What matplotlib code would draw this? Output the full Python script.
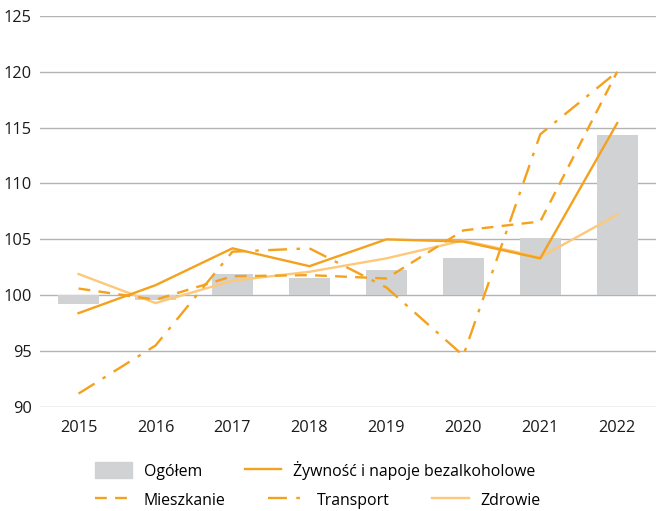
import matplotlib
matplotlib.use("Agg")
import matplotlib.pyplot as plt
from matplotlib.patches import Patch
from matplotlib.lines import Line2D

plt.rcParams['font.family'] = ['Open Sans', 'DejaVu Sans']

# data
years = ['2015', '2016', '2017', '2018', '2019', '2020', '2021', '2022']
ogolem = [99.2, 99.6, 101.9, 101.5, 102.3, 103.3, 105.1, 114.3]
zywnosc = [98.4, 100.9, 104.2, 102.6, 105.0, 104.8, 103.3, 115.4]
mieszkanie = [100.6, 99.6, 101.7, 101.8, 101.5, 105.8, 106.6, 120.0]
transport = [91.2, 95.5, 103.9, 104.2, 100.7, 94.6, 114.4, 120.0]
zdrowie = [101.9, 99.3, 101.3, 102.1, 103.3, 104.9, 103.4, 107.2]
yticks = [90, 95, 100, 105, 110, 115, 120, 125]

dark = '#F4A11D'
light = '#FDC87A'
bar_col = '#D1D2D4'

fig = plt.figure(figsize=(6.57, 5.11), dpi=100)
ax = fig.add_axes([0.061, 0.2035, 0.937, 0.7655])

x = list(range(len(years)))
ax.bar(x, [v - 100 for v in ogolem], bottom=100, width=0.53, color=bar_col, zorder=2)
ax.plot(x, zywnosc, color=dark, lw=1.7, zorder=4)
ax.plot(x, mieszkanie, color=dark, lw=1.7, dashes=(5, 3.5), zorder=4)
ax.plot(x, transport, color=dark, lw=1.7, dashes=(8, 4, 1.5, 4), zorder=4)
ax.plot(x, zdrowie, color=light, lw=1.7, zorder=3)

ax.set_xlim(-0.5, 7.5)
ax.set_ylim(90, 125)
ax.set_yticks(yticks)
ax.set_xticks(x)
ax.set_xticklabels(years)
ax.grid(axis='y', color='#B3B3B3', lw=1, zorder=0)
ax.set_axisbelow(True)
for s in ax.spines.values():
    s.set_visible(False)
ax.tick_params(length=0, labelsize=11.8, colors='#1a1a1a')
ax.tick_params(axis='y', pad=6)
ax.tick_params(axis='x', pad=9)

h1 = [Patch(color=bar_col), Line2D([], [], color=dark, lw=1.7)]
l1 = ['Ogółem', 'Żywność i napoje bezalkoholowe']
h2 = [Line2D([], [], color=dark, lw=1.7, dashes=(5, 3.5)),
      Line2D([], [], color=dark, lw=1.7, dashes=(8, 4, 1.5, 4)),
      Line2D([], [], color=light, lw=1.7)]
l2 = ['Mieszkanie', 'Transport', 'Zdrowie']

kw = dict(frameon=False, fontsize=11.4, handlelength=2.3, handleheight=1.2,
          handletextpad=0.76, columnspacing=2.7, borderpad=0, borderaxespad=0,
          loc='center left')
fig.legend(h1, l1, ncol=2, bbox_to_anchor=(0.145, 0.08), **kw)
fig.legend(h2, l2, ncol=3, bbox_to_anchor=(0.145, 0.021), **kw)

fig.savefig('out.png', dpi=100)
